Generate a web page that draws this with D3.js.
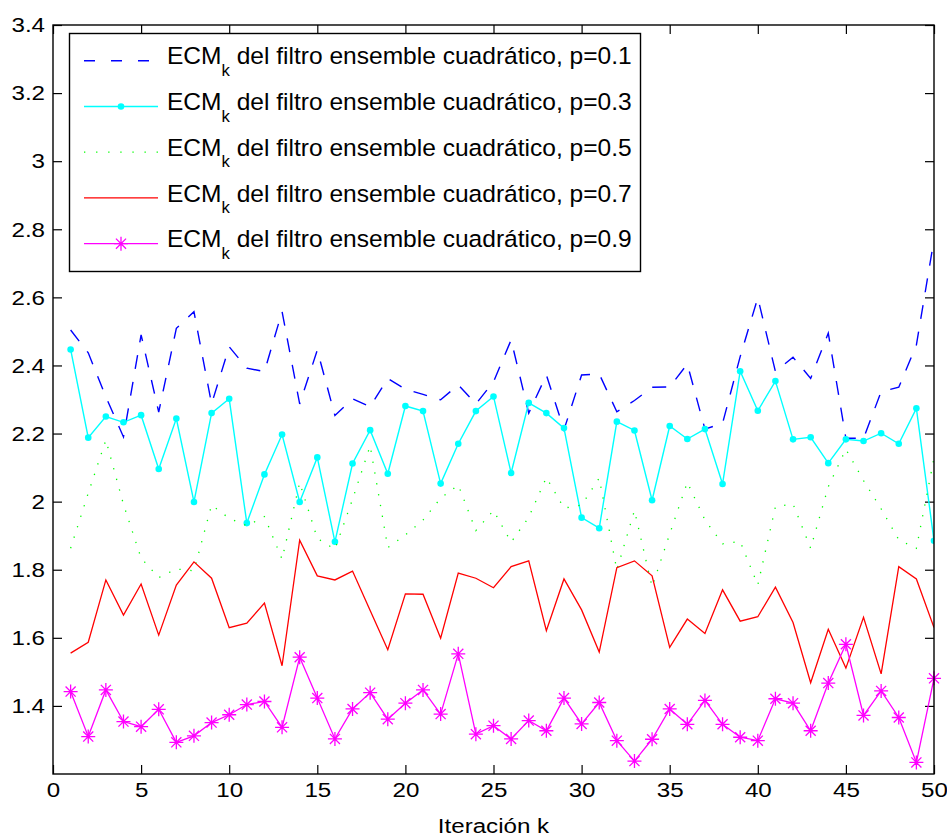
<!DOCTYPE html>
<html><head><meta charset="utf-8">
<script src="https://cdn.jsdelivr.net/npm/d3@7"></script>
<style>
body{margin:0;background:#fff}
text{font-family:"Liberation Sans",Arial,Helvetica,sans-serif;fill:#000}
</style>
</head><body><div id="chart"></div>
<script>
const iteraciones = [1,2,3,4,5,6,7,8,9,10,11,12,13,14,15,16,17,18,19,20,21,22,23,24,25,26,27,28,29,30,31,32,33,34,35,36,37,38,39,40,41,42,43,44,45,46,47,48,49,50];
const ecmP01 = [2.504,2.437,2.308,2.190,2.490,2.263,2.509,2.558,2.287,2.455,2.392,2.382,2.558,2.287,2.445,2.253,2.302,2.279,2.362,2.330,2.315,2.299,2.343,2.287,2.352,2.475,2.260,2.372,2.211,2.372,2.375,2.264,2.297,2.336,2.337,2.404,2.213,2.230,2.426,2.599,2.382,2.424,2.362,2.495,2.186,2.186,2.323,2.336,2.46,2.77];
const ecmP03 = [2.447,2.188,2.250,2.233,2.254,2.096,2.244,1.999,2.260,2.302,1.937,2.080,2.197,1.999,2.130,1.882,2.112,2.210,2.082,2.281,2.266,2.053,2.170,2.266,2.309,2.084,2.290,2.260,2.216,1.953,1.922,2.235,2.209,2.004,2.222,2.184,2.213,2.052,2.383,2.267,2.354,2.183,2.189,2.113,2.183,2.178,2.201,2.170,2.274,1.885];
const ecmP05 = [1.863,2.025,2.181,1.992,1.834,1.777,1.802,1.797,1.990,1.951,1.929,1.956,1.831,2.056,1.892,1.860,2.007,2.164,1.865,1.902,1.946,2.010,2.049,1.915,1.974,1.881,1.954,2.071,1.981,1.990,2.069,1.799,1.974,1.750,1.905,2.057,1.946,1.876,1.883,1.755,1.985,1.993,1.863,2.044,2.154,2.062,1.979,1.888,1.863,2.128];
const ecmP07 = [1.555,1.587,1.770,1.667,1.758,1.608,1.755,1.823,1.775,1.630,1.643,1.702,1.518,1.887,1.782,1.770,1.796,1.680,1.565,1.729,1.728,1.599,1.790,1.775,1.747,1.809,1.826,1.621,1.773,1.682,1.558,1.806,1.826,1.782,1.572,1.655,1.613,1.741,1.649,1.662,1.749,1.645,1.468,1.625,1.511,1.660,1.494,1.809,1.773,1.630];
const ecmP09 = [1.442,1.310,1.447,1.354,1.339,1.390,1.293,1.312,1.351,1.374,1.404,1.413,1.337,1.543,1.423,1.303,1.391,1.439,1.361,1.408,1.447,1.376,1.553,1.317,1.342,1.303,1.357,1.327,1.423,1.347,1.410,1.298,1.238,1.302,1.391,1.346,1.416,1.346,1.308,1.298,1.421,1.408,1.327,1.467,1.581,1.372,1.444,1.366,1.234,1.481];
const xTicks = [0,5,10,15,20,25,30,35,40,45,50];
const yTicks = [1.4,1.6,1.8,2,2.2,2.4,2.6,2.8,3,3.2,3.4];
const pValues = ["0.1","0.3","0.5","0.7","0.9"];
const xLabel = "Iteración k";

const W = 947, H = 837;
const svg = d3.select("#chart").append("svg").attr("width", W).attr("height", H);
const x = d3.scaleLinear().domain([0, 50]).range([53, 934]);
const y = d3.scaleLinear().domain([1.2, 3.4]).range([774, 25]);
const [x0, x1] = x.range(), [y0, y1] = y.range();

const series = [
  {vals: ecmP01, color: "#0000ff", dash: "14,13", width: 1.4, marker: null},
  {vals: ecmP03, color: "#00ffff", dash: null, width: 1.4, marker: "dot"},
  {vals: ecmP05, color: "#00ff00", dash: "1.3,9.7", width: 1.3, marker: null},
  {vals: ecmP07, color: "#ff0000", dash: null, width: 1.3, marker: null},
  {vals: ecmP09, color: "#ff00ff", dash: null, width: 1.3, marker: "star"}
];

function starPath(r) {
  const d = r * 0.72;
  return `M${-r},0H${r}M0,${-r}V${r}M${-d},${-d}L${d},${d}M${-d},${d}L${d},${-d}`;
}
// horizontal stretch of text around its anchor x
function stretch(sel, sx) {
  sel.attr("transform", function () {
    const ax = +(this.getAttribute("x") || 0);
    return `translate(${ax},0) scale(${sx},1) translate(${-ax},0)`;
  });
}

// axes
const fs = 21, sxTick = 1.15;
const gB = svg.append("g").attr("transform", `translate(0,${y0})`)
  .call(d3.axisBottom(x).tickValues(xTicks).tickSizeInner(-9).tickSizeOuter(0).tickPadding(8).tickFormat(d3.format("d")));
const gL = svg.append("g").attr("transform", `translate(${x0},0)`)
  .call(d3.axisLeft(y).tickValues(yTicks).tickSizeInner(-9).tickSizeOuter(0).tickPadding(8).tickFormat(d => d3.format("")(+d.toFixed(1))));
const gT = svg.append("g").attr("transform", `translate(0,${y1})`)
  .call(d3.axisTop(x).tickValues(xTicks).tickSizeInner(-9).tickSizeOuter(0).tickFormat(""));
const gR = svg.append("g").attr("transform", `translate(${x1},0)`)
  .call(d3.axisRight(y).tickValues(yTicks).tickSizeInner(-9).tickSizeOuter(0).tickFormat(""));
[gB, gL, gT, gR].forEach(g => {
  g.select(".domain").remove();
  g.selectAll("line").attr("stroke", "#000").attr("stroke-width", 1.2);
  g.selectAll("text").attr("font-size", fs).attr("font-family", '"Liberation Sans",Arial,sans-serif').attr("fill", "#000");
});
stretch(gB.selectAll("text"), sxTick);
stretch(gL.selectAll("text"), sxTick);

// lines
svg.append("clipPath").attr("id", "clip").append("rect")
  .attr("x", x0).attr("y", y1).attr("width", x1 - x0).attr("height", y0 - y1);
const plot = svg.append("g").attr("clip-path", "url(#clip)");
const line = d3.line().x((d, i) => x(iteraciones[i])).y(d => y(d));
series.forEach(s => {
  plot.append("path").datum(s.vals).attr("d", line).attr("fill", "none")
    .attr("stroke", s.color).attr("stroke-width", s.width)
    .attr("stroke-dasharray", s.dash).attr("stroke-linejoin", "miter");
  if (s.marker === "dot") {
    plot.selectAll(null).data(s.vals).enter().append("circle")
      .attr("cx", (d, i) => x(iteraciones[i])).attr("cy", d => y(d)).attr("r", 3.3).attr("fill", s.color);
  } else if (s.marker === "star") {
    svg.append("g").selectAll(null).data(s.vals).enter().append("path")
      .attr("transform", (d, i) => `translate(${x(iteraciones[i])},${y(d)})`)
      .attr("d", starPath(7)).attr("stroke", s.color).attr("stroke-width", 1.3).attr("fill", "none");
  }
});

// frame
svg.append("rect").attr("x", x0).attr("y", y1).attr("width", x1 - x0).attr("height", y0 - y1)
  .attr("fill", "none").attr("stroke", "#000").attr("stroke-width", 1.4);

// x label
const xl = svg.append("text").attr("x", (x0 + x1) / 2).attr("y", 833).attr("text-anchor", "middle")
  .attr("font-size", fs).text(xLabel);
stretch(xl, sxTick);

// legend
const lg = svg.append("g");
lg.append("rect").attr("x", 69.5).attr("y", 33.5).attr("width", 571).attr("height", 238)
  .attr("fill", "#fff").attr("stroke", "#000").attr("stroke-width", 1.4);
series.forEach((s, i) => {
  const cy = 60.7 + i * 45.75;
  lg.append("line").attr("x1", 84).attr("x2", 158).attr("y1", cy).attr("y2", cy)
    .attr("stroke", s.color).attr("stroke-width", s.width).attr("stroke-dasharray", s.dash ? (i === 0 ? "11,16" : "1.3,10.8") : null);
  if (s.marker === "dot") lg.append("circle").attr("cx", 121).attr("cy", cy).attr("r", 3.3).attr("fill", s.color);
  if (s.marker === "star") lg.append("path").attr("transform", `translate(121,${cy})`).attr("d", starPath(7))
    .attr("stroke", s.color).attr("stroke-width", 1.3).attr("fill", "none");
  const t = lg.append("text").attr("x", 167).attr("y", cy + 3.7).attr("font-size", 23.5);
  t.append("tspan").text("ECM");
  t.append("tspan").attr("font-size", 16).attr("dy", 11.5).text("k");
  t.append("tspan").attr("dy", -11.5).text(` del filtro ensemble cuadrático, p=${pValues[i]}`);
  stretch(t, 1.045);
});
</script>
</body></html>
